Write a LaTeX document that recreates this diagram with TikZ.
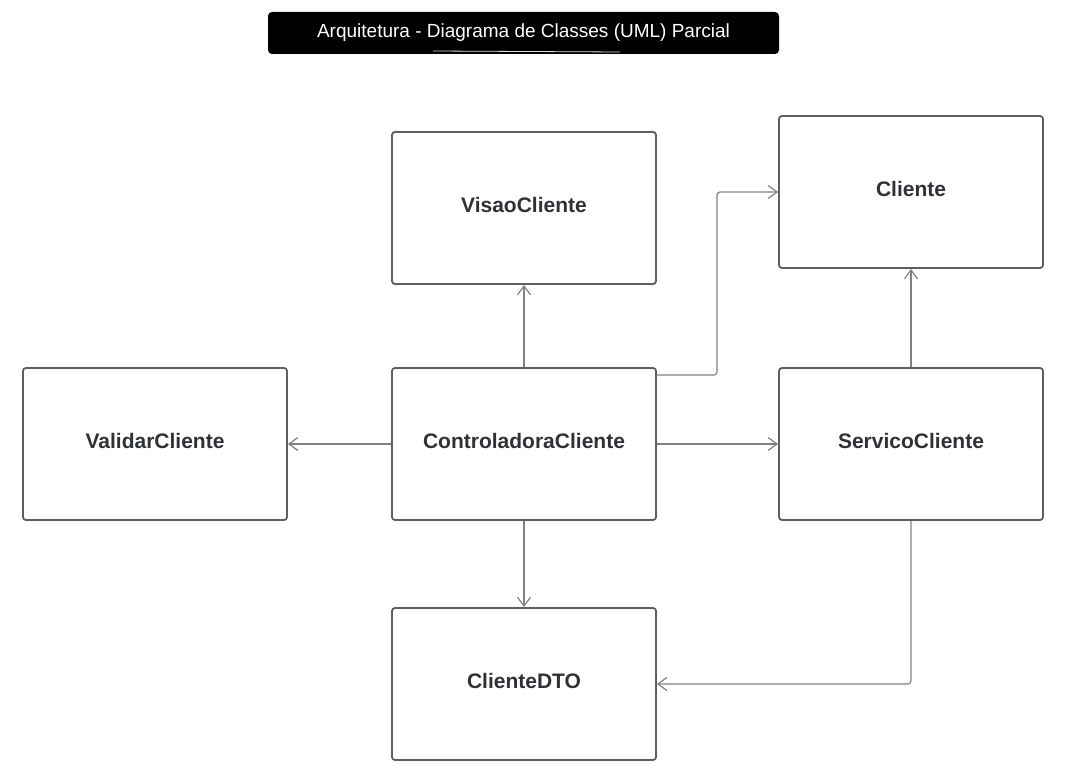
\documentclass[tikz,border=0pt]{standalone}
\usepackage{fontspec}
\setsansfont{Liberation Sans}
\usetikzlibrary{arrows.meta}
\definecolor{boxline}{HTML}{5E5E5E}
\definecolor{wire}{HTML}{828282}
\definecolor{classtext}{HTML}{2E3136}
\tikzset{
  classbox/.style={draw=boxline,line width=1.8pt,rounded corners=3pt,
    minimum width=264pt,minimum height=152pt,text height=15pt,text depth=6pt,
    font=\sffamily\bfseries\fontsize{21}{25}\selectfont,text=classtext},
  wire/.style={draw=wire,line width=1.2pt,rounded corners=3pt,
    -{Straight Barb[length=9pt,width=13pt]}}
}
\begin{document}
\begin{tikzpicture}[x=1pt,y=-1pt]
      \useasboundingbox (0,0) rectangle (1065,773);
      % title
      \node[fill=black,rounded corners=4pt,minimum width=511pt,minimum height=42pt,
        text=white,font=\sffamily\fontsize{19}{23}\selectfont] (title) at (523.5,33)
        {Arquitetura - Diagrama de Classes (UML) Parcial};
      \draw[white!70!gray,line width=.8pt] (433,51) -- (620,52);
      % classes
      \foreach \nm/\cx/\cy/\lbl in {%
        visao/524/208/VisaoCliente,
        cliente/911/192/Cliente,
        validar/155/444/ValidarCliente,
        ctrl/524/444/ControladoraCliente,
        servico/911/444/ServicoCliente,
        dto/524/684/ClienteDTO}{%
          \node[classbox] (\nm) at (\cx,\cy) {\lbl};
        }
      % associations
      \coordinate (up) at (717,375);
      \draw[wire] (ctrl.north) -- (visao.south);
      \draw[wire] (ctrl.west) -- (validar.east);
      \draw[wire] (ctrl.east) -- (servico.west);
      \draw[wire] (ctrl.south) -- (dto.north);
      \draw[wire] (servico.north) -- (cliente.south);
      \draw[wire] (ctrl.east |- up) -- (up) |- (cliente.west);
      \draw[wire] (servico.south) |- (dto.east);
    \end{tikzpicture}
\end{document}
